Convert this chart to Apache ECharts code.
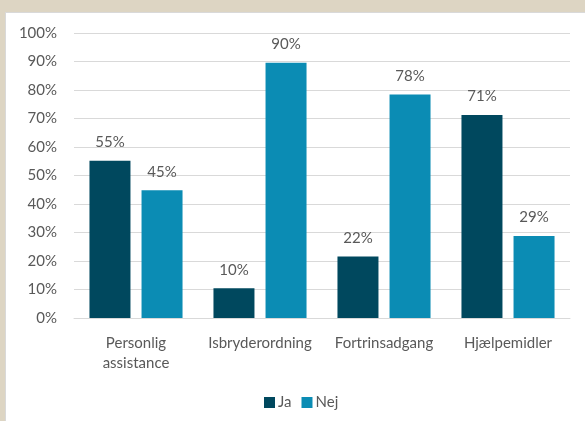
<!DOCTYPE html>
<html lang="da">
<head>
<meta charset="UTF-8">
<title>Ja / Nej</title>
<script src="https://cdn.jsdelivr.net/npm/echarts/dist/echarts.min.js"></script>
<style>
  html, body { margin: 0; padding: 0; width: 585px; height: 421px; overflow: hidden; background: #ddd5c3; }
  #chart { position: absolute; left: 5px; top: 12px; width: 600px; height: 420px; background: #fff; border: 1px solid #d9d9d9; }
</style>
</head>
<body>
<div id="chart"></div>
<script>
  const categories = ['Personlig\nassistance', 'Isbryderordning', 'Fortrinsadgang', 'Hjælpemidler'];
  const jaValues = [55.2, 10.4, 21.6, 71.2];
  const nejValues = [44.8, 89.6, 78.4, 28.8];
  const yTicks = [0, 10, 20, 30, 40, 50, 60, 70, 80, 90, 100];

  const font = 'Lato, "Noto Sans", sans-serif';
  const textColor = '#595959';

  const chart = echarts.init(document.getElementById('chart'));

  const label = {
    show: true,
    position: 'top',
    distance: 11,
    color: textColor,
    fontFamily: font,
    fontSize: 15,
    formatter: p => Math.round(p.value) + '%'
  };

  chart.setOption({
    animation: false,
    textStyle: { fontFamily: font },
    grid: { left: 68, top: 20, width: 496, height: 285 },
    legend: {
      data: ['Ja', 'Nej'],
      left: 253,
      top: 377,
      itemWidth: 11,
      itemHeight: 11,
      itemGap: 10,
      icon: 'rect',
      textStyle: { color: textColor, fontSize: 15, fontFamily: font, padding: [0, 0, 0, -2] }
    },
    xAxis: {
      type: 'category',
      data: categories,
      axisLine: { lineStyle: { color: '#d9d9d9', width: 1 } },
      axisTick: { show: false },
      axisLabel: { color: textColor, fontSize: 15, fontFamily: font, margin: 15, lineHeight: 20, interval: 0 }
    },
    yAxis: {
      type: 'value',
      min: yTicks[0],
      max: yTicks[yTicks.length - 1],
      interval: 10,
      axisLine: { show: false },
      axisTick: { show: false },
      splitLine: { lineStyle: { color: '#d9d9d9', width: 1 } },
      axisLabel: { color: textColor, fontSize: 15, fontFamily: font, margin: 17, formatter: v => v + '%' }
    },
    series: [
      { name: 'Ja', type: 'bar', data: jaValues, barWidth: 41, barGap: '27%', itemStyle: { color: '#00485e' }, label: label },
      { name: 'Nej', type: 'bar', data: nejValues, barWidth: 41, itemStyle: { color: '#0b8cb4' }, label: label }
    ]
  });
</script>
</body>
</html>
